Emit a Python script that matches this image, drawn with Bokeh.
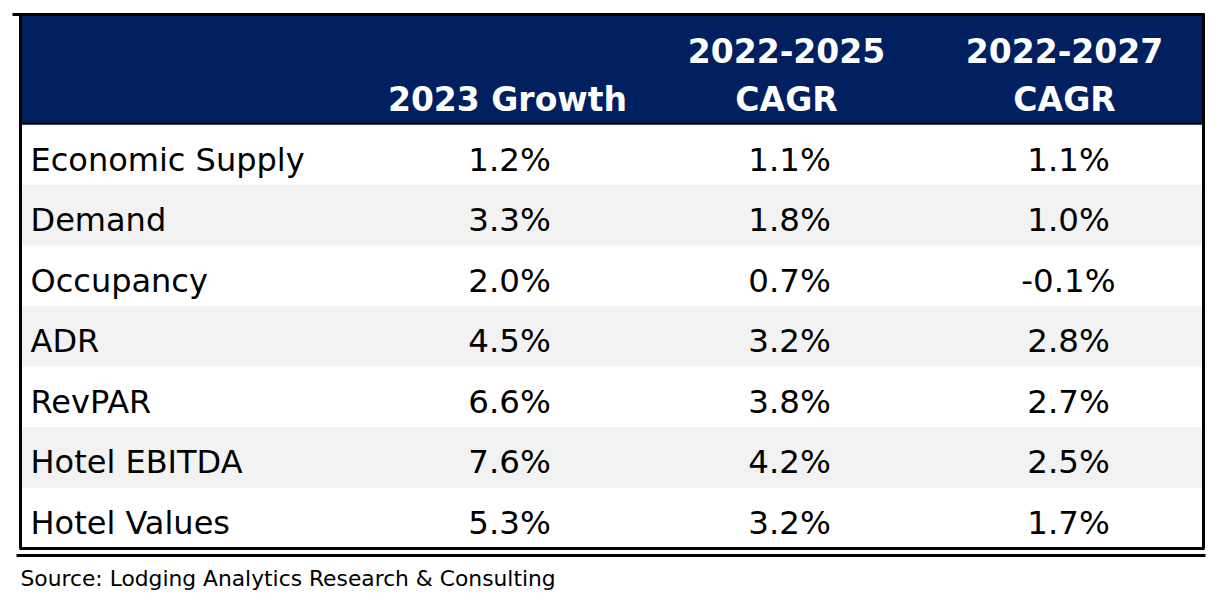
from bokeh.plotting import figure
from bokeh.models import Range1d
from bokeh.core.properties import value
from bokeh.embed import file_html
from bokeh.resources import INLINE

metrics = ["Economic Supply", "Demand", "Occupancy", "ADR", "RevPAR", "Hotel EBITDA", "Hotel Values"]
growth_2023 = [1.2, 3.3, 2.0, 4.5, 6.6, 7.6, 5.3]
cagr_2022_2025 = [1.1, 1.8, 0.7, 3.2, 3.8, 4.2, 3.2]
cagr_2022_2027 = [1.1, 1.0, -0.1, 2.8, 2.7, 2.5, 1.7]
headers = [["2023 Growth"], ["2022-2025", "CAGR"], ["2022-2027", "CAGR"]]
source_note = "Source: Lodging Analytics Research & Consulting"

FONT = "DejaVu Sans"
NAVY = "#002060"
GRAY = "#F2F2F2"

W, H = 1208, 590
p = figure(width=W, height=H, output_backend="svg", toolbar_location=None,
           x_range=Range1d(0, W), y_range=Range1d(H, 0), min_border=0)
p.axis.visible = False
p.grid.visible = False
p.outline_line_color = None
p.background_fill_color = "white"
p.border_fill_color = "white"

left, right = 20, 1203
head_top, head_bot = 15, 124
table_bot = 548
n = len(metrics)
row_h = (table_bot - head_bot) / n
col_x = [509, 789, 1068]
head_x = [507, 786, 1064]

tops = [head_bot + i * row_h for i in range(n)]
bots = [t + row_h for t in tops]
fills = ["white" if i % 2 == 0 else GRAY for i in range(n)]
p.quad(left=left, right=right, top=tops, bottom=bots, fill_color=fills, line_color=None)

p.quad(left=[left], right=[right], top=[head_top], bottom=[head_bot], fill_color=NAVY, line_color=None)

hx, hy, ht = [], [], []
for cx, lines in zip(head_x, headers):
    for j, t in enumerate(reversed(lines)):
        hx.append(cx)
        hy.append(99 - j * 49)
        ht.append(t)
p.text(x=hx, y=hy, text=ht, text_color="white", text_font=value(FONT), text_font_style="bold",
       text_font_size="33px", text_align="center", text_baseline="middle")

mids = [t + 35 for t in tops]
p.text(x=[30] * n, y=mids, text=metrics, text_color="black", text_font=value(FONT),
       text_font_size="32px", text_align="left", text_baseline="middle")
for cx, vals in zip(col_x, [growth_2023, cagr_2022_2025, cagr_2022_2027]):
    p.text(x=[cx] * n, y=mids, text=[f"{v:.1f}%" for v in vals], text_color="black",
           text_font=value(FONT), text_font_size="32.5px", text_align="center", text_baseline="middle")

# borders
p.segment(x0=[12], y0=[14], x1=[right + 1], y1=[14], line_color="black", line_width=3)
p.segment(x0=[left, right], y0=[13, 13], x1=[left, right], y1=[table_bot, table_bot],
          line_color="black", line_width=3)
p.segment(x0=[left], y0=[head_bot - 1], x1=[right], y1=[head_bot - 1], line_color="black", line_width=2)
p.segment(x0=[left - 1], y0=[table_bot], x1=[right + 1], y1=[table_bot], line_color="black", line_width=3)
p.segment(x0=[16], y0=[555], x1=[right + 2], y1=[555], line_color="black", line_width=3)

p.text(x=[20], y=[578], text=[source_note], text_color="black", text_font=value(FONT),
       text_font_size="21.8px", text_align="left", text_baseline="middle")

open("out.html", "w").write(file_html(p, INLINE))
